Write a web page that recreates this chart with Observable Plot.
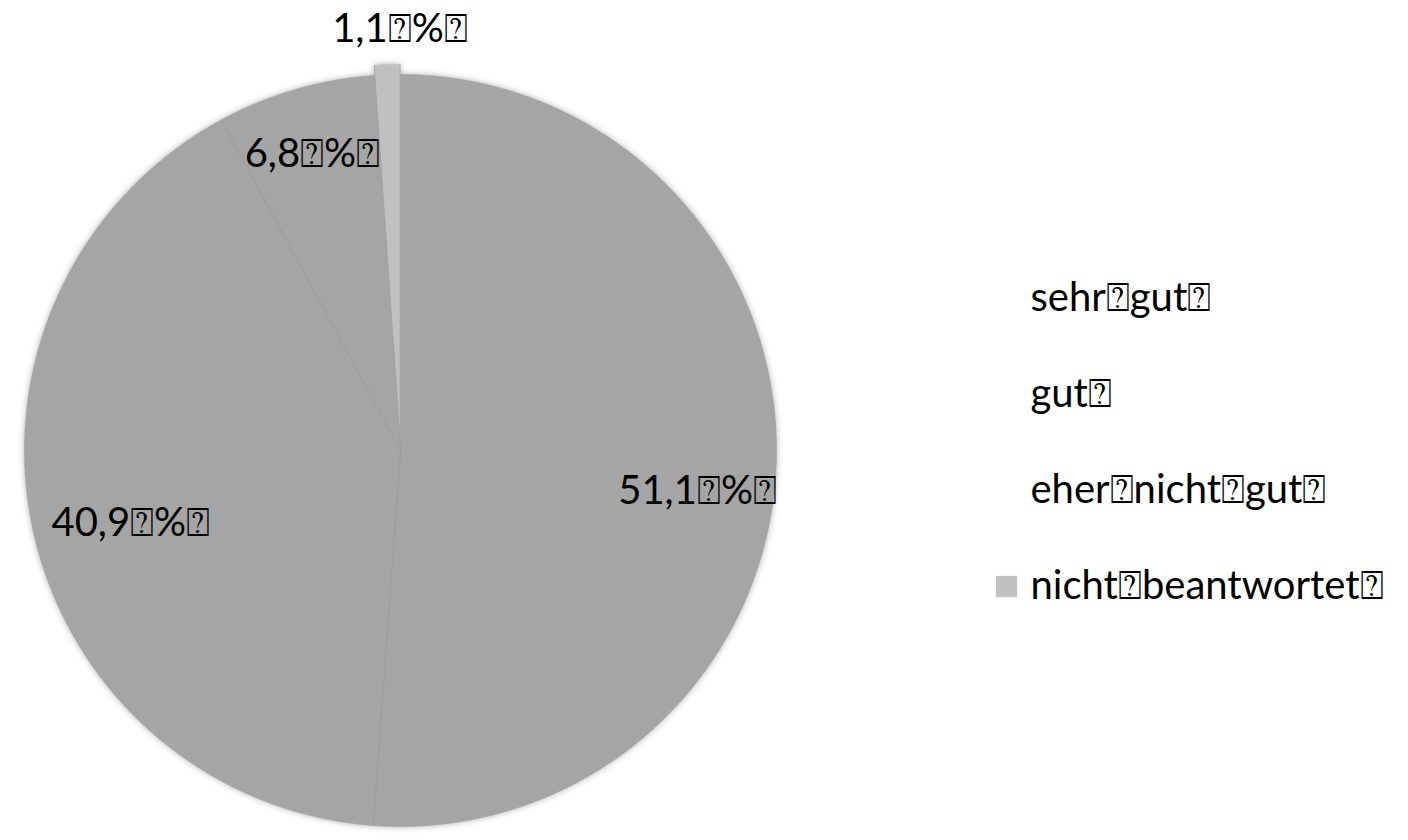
<!DOCTYPE html>
<html>
<head>
<meta charset="utf-8">
<script src="https://cdn.jsdelivr.net/npm/d3@7"></script>
<script src="https://cdn.jsdelivr.net/npm/@observablehq/plot@0.6"></script>
<style>
  html, body { margin: 0; padding: 0; background: #fff; }
  #chart { width: 1408px; height: 840px; }
  g.pie { filter: drop-shadow(0 0 3px rgba(0,0,0,0.3)); }
</style>
</head>
<body>
<div id="chart"></div>
<script>
// ---- data ----
const categories = ["sehr gut", "gut", "eher nicht gut", "nicht beantwortet"];
const values = [51.1, 40.9, 6.8, 1.1];
const valueLabels = ["51,1\u2370%\u2370", "40,9\u2370%\u2370", "6,8\u2370%\u2370", "1,1\u2370%\u2370"];
const legendLabels = ["sehr\u2370gut\u2370", "gut\u2370", "eher\u2370nicht\u2370gut\u2370", "nicht\u2370beantwortet\u2370"];
const sliceColors = ["#a5a5a5", "#a5a5a5", "#a5a5a5", "#c0c0c0"];
const legendSwatch = ["#ffffff", "#ffffff", "#ffffff", "#c0c0c0"];
const exploded = [false, false, false, true];

// ---- layout (pixels) ----
const W = 1408, H = 840;
const cxPx = 400, cyPx = 450, rPx = 376;
const labelNudgePx = [[4, 30], [17, 11], [-2, 0], [14, 0]];
const xDomain = [-cxPx / rPx, (W - cxPx) / rPx];
const yDomain = [(cyPx - H) / rPx, cyPx / rPx];
const ux = px => (px - cxPx) / rPx;
const uy = py => (cyPx - py) / rPx;

const total = d3.sum(values);
const pts = [];
const edges = [];
const labels = [];
let acc = 0;
values.forEach((v, i) => {
  const a0 = acc / total * 2 * Math.PI;
  acc += v;
  const a1 = acc / total * 2 * Math.PI;
  const mid = (a0 + a1) / 2;
  const off = exploded[i] ? 0.027 : 0;
  const ox = off * Math.sin(mid), oy = off * Math.cos(mid);
  pts.push({cat: categories[i], x: ox, y: oy});
  const n = Math.max(4, Math.ceil((a1 - a0) / 0.004));
  for (let k = 0; k <= n; k++) {
    const a = a0 + (a1 - a0) * k / n;
    pts.push({cat: categories[i], x: ox + Math.sin(a), y: oy + Math.cos(a)});
  }
  pts.push({cat: categories[i], x: ox, y: oy});
  edges.push({x1: ox, y1: oy, x2: ox + Math.sin(a0), y2: oy + Math.cos(a0)});
  edges.push({x1: ox, y1: oy, x2: ox + Math.sin(a1), y2: oy + Math.cos(a1)});
  const lr = exploded[i] ? 1.12 : (v > 20 ? 0.78 : 0.82);
  labels.push({
    text: valueLabels[i],
    x: lr * Math.sin(mid) + labelNudgePx[i][0] / rPx,
    y: lr * Math.cos(mid) - labelNudgePx[i][1] / rPx
  });
});

const legend = categories.map((c, i) => ({
  cat: c, label: legendLabels[i], swatch: legendSwatch[i],
  x: ux(1030), sx: ux(1006), y: uy(298 + i * 96)
}));

const plot = Plot.plot({
  width: W, height: H,
  margin: 0,
  x: {domain: xDomain, axis: null},
  y: {domain: yDomain, axis: null},
  color: {domain: categories, range: sliceColors},
  style: {fontFamily: "Lato, 'Open Sans', sans-serif", background: "transparent"},
  marks: [
    Plot.line(pts, {x: "x", y: "y", z: "cat", fill: "cat", stroke: "cat", strokeWidth: 0.6, curve: "linear", className: "pie"}),
    Plot.link(edges, {x1: "x1", y1: "y1", x2: "x2", y2: "y2", stroke: "#999999", strokeWidth: 0.8, strokeOpacity: 0.6}),
    Plot.text(labels, {x: "x", y: "y", text: "text", fontSize: 40, fill: "#000", textAnchor: "middle", lineAnchor: "middle"}),
    Plot.dot(legend, {x: "sx", y: "y", symbol: "square", r: 12, fill: "swatch", stroke: "none"}),
    Plot.text(legend, {x: "x", y: "y", text: "label", fontSize: 40, fill: "#000", textAnchor: "start", lineAnchor: "middle"})
  ]
});
document.getElementById("chart").appendChild(plot);
</script>
</body>
</html>
